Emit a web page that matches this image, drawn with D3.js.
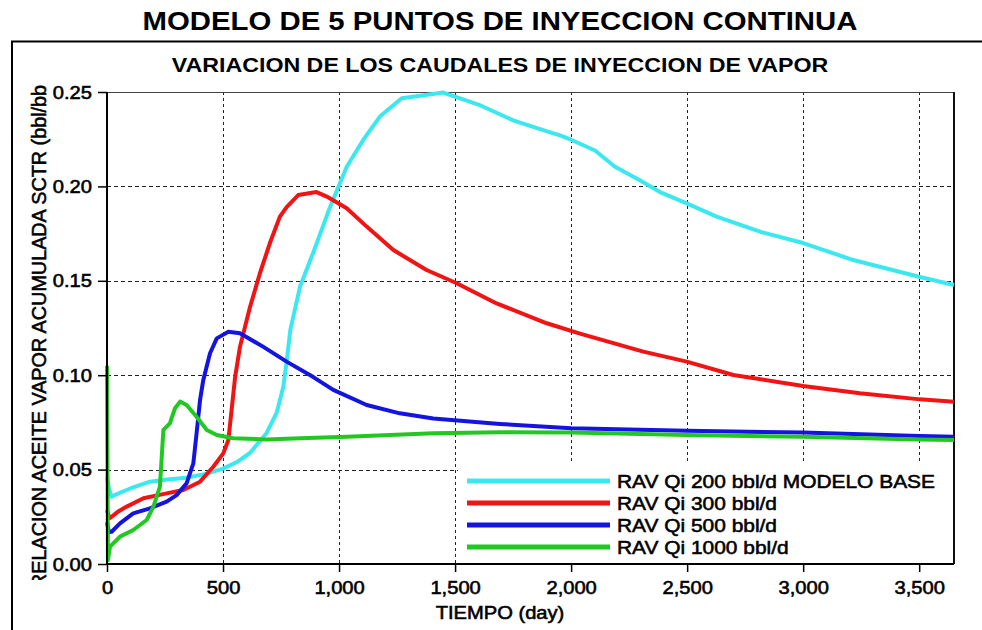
<!DOCTYPE html>
<html>
<head>
<meta charset="utf-8">
<script src="https://cdn.jsdelivr.net/npm/d3@7"></script>
<style>
  html, body { margin: 0; padding: 0; background: #fff; }
  svg { display: block; }
  text { font-family: "Liberation Sans", Arial, sans-serif; fill: #000; }
  .heavy { stroke: #000; stroke-width: 0.55px; paint-order: stroke; }
</style>
</head>
<body>
<svg id="chart" width="982" height="630"></svg>
<script>
// ---------- data ----------
const title = "MODELO DE 5 PUNTOS DE INYECCION CONTINUA";
const subtitle = "VARIACION DE LOS CAUDALES DE INYECCION DE VAPOR";
const xLabel = "TIEMPO (day)";
const yLabel = "RELACION ACEITE VAPOR ACUMULADA SCTR (bbl/bbl)";

const xTicks = [0, 500, 1000, 1500, 2000, 2500, 3000, 3500];
const yTicks = [0, 0.05, 0.10, 0.15, 0.20, 0.25];

const seriesNames = [
  "RAV Qi 200 bbl/d MODELO BASE",
  "RAV Qi 300 bbl/d",
  "RAV Qi 500 bbl/d",
  "RAV Qi 1000 bbl/d"
];
const seriesColors = ["#3ce8f0", "#f01414", "#1414e0", "#22c822"];

const cyan200 = [[0,0.046],[8,0.040],[20,0.0357],[60,0.038],[100,0.040],[185,0.0436],[260,0.0448],[330,0.0455],[420,0.0475],[500,0.0505],[560,0.054],[616,0.0588],[688,0.0694],[731,0.080],[760,0.094],[775,0.108],[790,0.124],[832,0.147],[889,0.165],[961,0.189],[1033,0.2104],[1104,0.2246],[1176,0.237],[1270,0.2467],[1350,0.248],[1449,0.2497],[1607,0.243],[1750,0.235],[1900,0.229],[1952,0.227],[2002,0.2246],[2103,0.219],[2189,0.2104],[2300,0.203],[2383,0.197],[2498,0.191],[2627,0.184],[2814,0.176],[3000,0.170],[3216,0.161],[3503,0.152],[3650,0.1478]];

const red300 = [[0,0.0286],[10,0.0242],[20,0.025],[50,0.028],[85,0.0304],[157,0.0348],[257,0.0374],[329,0.0392],[401,0.0436],[458,0.0515],[501,0.0586],[523,0.0657],[537,0.0816],[552,0.099],[573,0.115],[616,0.136],[659,0.154],[702,0.170],[745,0.184],[774,0.189],[824,0.1954],[903,0.197],[947,0.1946],[1033,0.1884],[1119,0.1787],[1234,0.1663],[1377,0.1557],[1507,0.1487],[1679,0.138],[1895,0.1275],[2038,0.122],[2311,0.1125],[2498,0.1072],[2699,0.1001],[3000,0.0943],[3244,0.0904],[3503,0.0872],[3650,0.086]];

const blue500 = [[0,0.022],[8,0.017],[20,0.0171],[56,0.0215],[113,0.0268],[185,0.0295],[257,0.033],[300,0.0365],[343,0.0427],[372,0.0533],[386,0.0692],[401,0.0869],[415,0.0975],[444,0.1116],[473,0.1195],[523,0.123],[573,0.1222],[674,0.115],[774,0.1072],[889,0.099],[975,0.0922],[1119,0.0842],[1262,0.0798],[1406,0.0771],[1693,0.0742],[2000,0.0719],[2498,0.0706],[3000,0.0696],[3500,0.0678],[3650,0.0674]];

const green1000 = [[0,0.105],[4,0.002],[13,0.0092],[56,0.0145],[113,0.018],[171,0.0233],[200,0.0304],[228,0.041],[235,0.055],[243,0.071],[271,0.0745],[293,0.0825],[315,0.086],[343,0.0842],[386,0.078],[430,0.071],[473,0.0683],[544,0.0666],[688,0.066],[832,0.0666],[1033,0.0674],[1406,0.0692],[1693,0.0698],[2000,0.0696],[2498,0.0683],[3000,0.0674],[3500,0.066],[3650,0.0657]];

const seriesData = [cyan200, red300, blue500, green1000];

// ---------- layout ----------
const svg = d3.select("#chart");
const plot = { left: 107, right: 954, top: 92, bottom: 564 };
const x = d3.scaleLinear().domain([0, 3650]).range([plot.left, plot.right]);
const y = d3.scaleLinear().domain([0, 0.25]).range([plot.bottom, plot.top]);
const fmtX = d3.format(",");
const fmtY = d3.format(".2f");

function stretch(sel, k) {
  sel.each(function () {
    const w = this.getComputedTextLength();
    d3.select(this).attr("textLength", w * k).attr("lengthAdjust", "spacingAndGlyphs");
  });
}

svg.append("rect").attr("width", 982).attr("height", 630).attr("fill", "#fff");

// outer frame
svg.append("path").attr("d", "M12,630 V41.5 H982")
  .attr("fill", "none").attr("stroke", "#000").attr("stroke-width", 2);

// titles
svg.append("text").attr("x", 500).attr("y", 30).attr("text-anchor", "middle")
  .attr("font-size", 25.5).attr("font-weight", "bold").text(title)
  .call(stretch, 1.15);
svg.append("text").attr("x", 500).attr("y", 71.5).attr("text-anchor", "middle")
  .attr("font-size", 20).attr("font-weight", "bold").text(subtitle)
  .call(stretch, 1.16);

// grid
const grid = svg.append("g").attr("stroke", "#222").attr("stroke-width", 1).attr("fill", "none");
grid.selectAll("line.v").data(xTicks.filter(d => d > 0)).join("line")
  .attr("x1", d => Math.round(x(d)) + 0.5).attr("x2", d => Math.round(x(d)) + 0.5)
  .attr("y1", plot.top).attr("y2", plot.bottom)
  .attr("stroke-dasharray", "3,3");
grid.selectAll("line.h").data(yTicks.filter(d => d > 0 && d < 0.25)).join("line")
  .attr("y1", d => Math.round(y(d)) + 0.5).attr("y2", d => Math.round(y(d)) + 0.5)
  .attr("x1", plot.left).attr("x2", plot.right)
  .attr("stroke-dasharray", "4,3");

// top and right border
svg.append("line").attr("x1", plot.left).attr("x2", plot.right)
  .attr("y1", plot.top + 0.5).attr("y2", plot.top + 0.5)
  .attr("stroke", "#444").attr("stroke-width", 1);
svg.append("line").attr("x1", plot.right).attr("x2", plot.right)
  .attr("y1", plot.top).attr("y2", plot.bottom)
  .attr("stroke", "#111").attr("stroke-width", 2);

// legend background (covers grid)
svg.append("rect").attr("x", 458).attr("y", 462).attr("width", plot.right - 1 - 458)
  .attr("height", plot.bottom - 1 - 462).attr("fill", "#fff");

// series
const line = d3.line().x(d => x(d[0])).y(d => y(d[1])).curve(d3.curveLinear);
svg.append("g").selectAll("path").data(seriesData).join("path")
  .attr("d", line)
  .attr("fill", "none")
  .attr("stroke", (d, i) => seriesColors[i])
  .attr("stroke-width", 4)
  .attr("stroke-linejoin", "round")
  .attr("stroke-linecap", "butt");

// axes
const xAxis = d3.axisBottom(x).tickValues(xTicks).tickFormat(fmtX).tickSize(8).tickPadding(9);
const yAxis = d3.axisLeft(y).tickValues(yTicks).tickFormat(fmtY).tickSize(9).tickPadding(6);

const gx = svg.append("g").attr("transform", `translate(0,${plot.bottom})`).call(xAxis);
const gy = svg.append("g").attr("transform", `translate(${plot.left},0)`).call(yAxis);
[gx, gy].forEach(g => {
  g.select(".domain").attr("stroke", "#000").attr("stroke-width", 2);
  g.selectAll(".tick line").attr("stroke", "#000").attr("stroke-width", 1.5);
  g.selectAll(".tick text").attr("font-size", 17.5).attr("class", "heavy")
    .attr("font-family", "Liberation Sans, Arial, sans-serif").attr("fill", "#000");
});
gx.select(".domain").attr("d", `M${plot.left},0H${plot.right}`);
gy.select(".domain").attr("d", `M0,${plot.bottom}V${plot.top}`);
gx.selectAll(".tick text").attr("dy", null).attr("y", 30).call(stretch, 1.15);
gy.selectAll(".tick text").attr("dy", null).attr("y", 6).call(stretch, 1.15);

// axis titles
svg.append("text").attr("x", 500).attr("y", 619).attr("text-anchor", "middle")
  .attr("class", "heavy")
  .attr("font-size", 17.5).text(xLabel).call(stretch, 1.15);

svg.append("clipPath").attr("id", "ylabClip")
  .append("rect").attr("x", 0).attr("y", 85).attr("width", 80).attr("height", 495);
svg.append("g").attr("clip-path", "url(#ylabClip)")
  .append("text")
  .attr("class", "heavy")
  .attr("transform", "translate(45.5,331) rotate(-90)")
  .attr("text-anchor", "middle")
  .attr("font-size", 20)
  .attr("textLength", 514).attr("lengthAdjust", "spacingAndGlyphs")
  .text(yLabel);

// legend
const legendRowsY = [481, 503, 525, 547];
const lg = svg.append("g");
const rows = lg.selectAll("g").data(seriesNames).join("g")
  .attr("transform", (d, i) => `translate(0,${legendRowsY[i]})`);
rows.append("line").attr("x1", 467).attr("x2", 610).attr("y1", 0).attr("y2", 0)
  .attr("stroke", (d, i) => seriesColors[i]).attr("stroke-width", 5);
rows.append("text").attr("x", 617).attr("y", 7).attr("font-size", 18.5)
  .attr("class", "heavy")
  .text(d => d).call(stretch, 1.13);
</script>
</body>
</html>
